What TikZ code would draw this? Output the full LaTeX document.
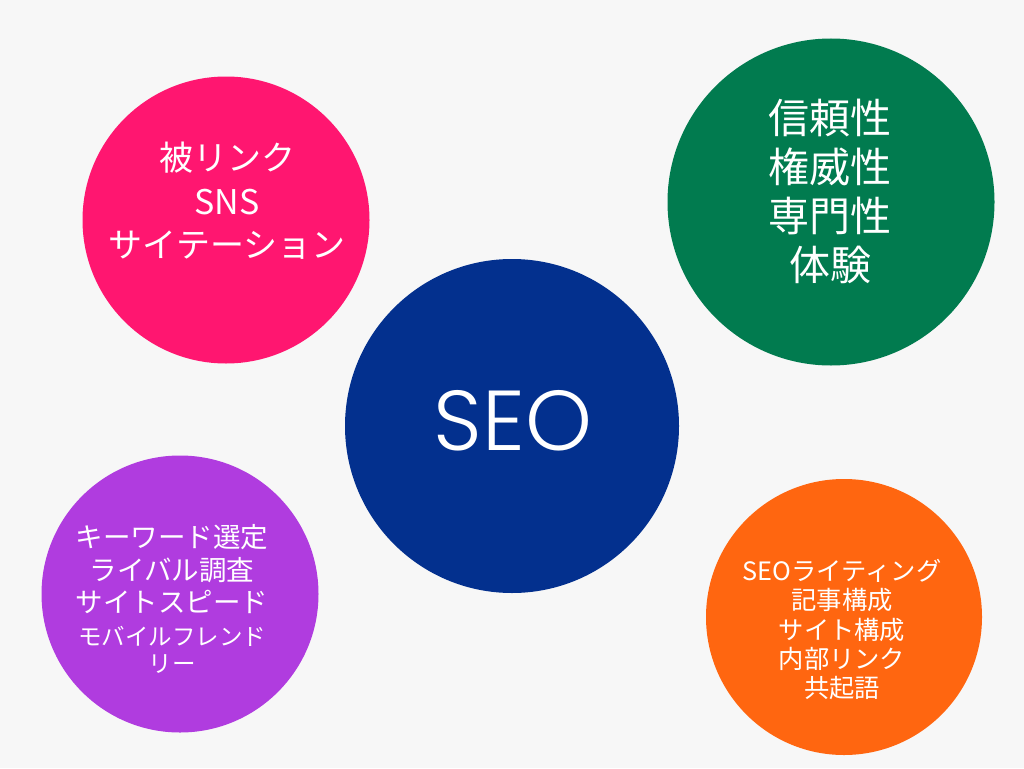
\documentclass[tikz,border=0pt]{standalone}
\usepackage{fontspec}
\setmainfont{Noto Sans CJK JP}
\newfontfamily\seofont{Poppins Light}
\definecolor{bgc}{HTML}{F7F7F7}
\definecolor{pinkc}{HTML}{FF1670}
\definecolor{greenc}{HTML}{017B4F}
\definecolor{bluec}{HTML}{03308E}
\definecolor{purplec}{HTML}{B03CDF}
\definecolor{orangec}{HTML}{FF6610}
\tikzset{
  disc/.style={circle, inner sep=0pt, draw=none},
  label text/.style={text=white, align=center, inner sep=0pt}
}
\begin{document}
\begin{tikzpicture}[x=1pt,y=-1pt]
\useasboundingbox (0,0) rectangle (1024,768);
\fill[bgc] (0,0) rectangle (1024,768);
% circles
\node[disc, fill=pinkc, minimum size=287pt] (pink) at (226,220) {};
\node[disc, fill=greenc, minimum size=327pt] (green) at (831,202) {};
\node[disc, fill=bluec, minimum size=334pt] (blue) at (512,426) {};
\node[disc, fill=purplec, minimum size=277pt] (purple) at (180,594) {};
\node[disc, fill=orangec, minimum size=276pt] (orange) at (844,617) {};
% texts
\node[label text, font=\fontsize{34}{43.5}\selectfont] (pinktext) at (227,201)
  {被リンク\\SNS\\サイテーション};
\node[label text, font=\fontsize{41}{49}\selectfont] (greentext) at (830,191)
  {信頼性\\権威性\\専門性\\体験};
\node[label text, font=\seofont\fontsize{85}{95}\selectfont] (seotext) at (513,421) {SEO};
\node[label text, font=\fontsize{27.5}{32.5}\selectfont] (purpletext) at (172,599)
  {キーワード選定\\ライバル調査\\サイトスピード\\{\fontsize{23.5}{28}\selectfont モバイルフレンド}\\[-5pt]{\fontsize{23.5}{28}\selectfont リー}};
\node[label text, font=\fontsize{25.3}{29.3}\selectfont] (orangetext) at (842,629.5)
  {SEOライティング\\記事構成\\サイト構成\\内部リンク\\共起語};
\end{tikzpicture}
\end{document}
